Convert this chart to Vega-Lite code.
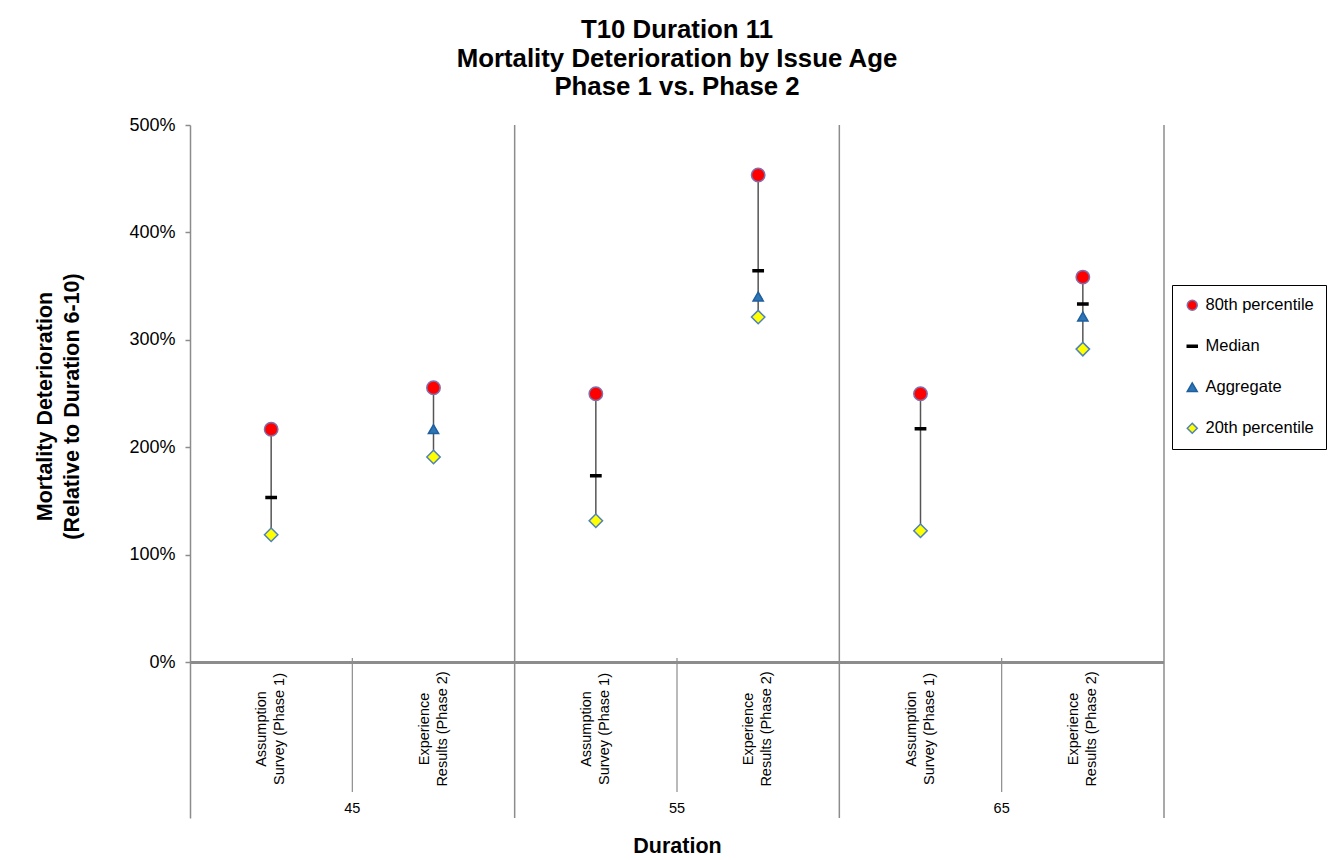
{
  "$schema": "https://vega.github.io/schema/vega-lite/v6.json",
  "autosize": "none",
  "padding": {"left": 190, "top": 125, "right": 171, "bottom": 42},
  "width": 974,
  "height": 693,
  "background": "white",
  "title": {
    "text": ["T10 Duration 11", "Mortality Deterioration by Issue Age", "Phase 1 vs. Phase 2"],
    "fontSize": 25.8,
    "fontWeight": "bold",
    "font": "Liberation Sans",
    "color": "#000000",
    "lineHeight": 28.5,
    "anchor": "middle",
    "offset": 15
  },
  "data": {
    "values": [
      {"group": "45", "source": "Assumption Survey (Phase 1)", "stat": "80th percentile", "value": 2.17},
      {"group": "45", "source": "Assumption Survey (Phase 1)", "stat": "Median", "value": 1.535},
      {"group": "45", "source": "Assumption Survey (Phase 1)", "stat": "20th percentile", "value": 1.188},
      {"group": "45", "source": "Experience Results (Phase 2)", "stat": "80th percentile", "value": 2.555},
      {"group": "45", "source": "Experience Results (Phase 2)", "stat": "Aggregate", "value": 2.171},
      {"group": "45", "source": "Experience Results (Phase 2)", "stat": "20th percentile", "value": 1.911},
      {"group": "55", "source": "Assumption Survey (Phase 1)", "stat": "80th percentile", "value": 2.5},
      {"group": "55", "source": "Assumption Survey (Phase 1)", "stat": "Median", "value": 1.737},
      {"group": "55", "source": "Assumption Survey (Phase 1)", "stat": "20th percentile", "value": 1.318},
      {"group": "55", "source": "Experience Results (Phase 2)", "stat": "80th percentile", "value": 4.535},
      {"group": "55", "source": "Experience Results (Phase 2)", "stat": "Median", "value": 3.644},
      {"group": "55", "source": "Experience Results (Phase 2)", "stat": "Aggregate", "value": 3.405},
      {"group": "55", "source": "Experience Results (Phase 2)", "stat": "20th percentile", "value": 3.213},
      {"group": "65", "source": "Assumption Survey (Phase 1)", "stat": "80th percentile", "value": 2.5},
      {"group": "65", "source": "Assumption Survey (Phase 1)", "stat": "Median", "value": 2.174},
      {"group": "65", "source": "Assumption Survey (Phase 1)", "stat": "20th percentile", "value": 1.225},
      {"group": "65", "source": "Experience Results (Phase 2)", "stat": "80th percentile", "value": 3.585},
      {"group": "65", "source": "Experience Results (Phase 2)", "stat": "Median", "value": 3.334},
      {"group": "65", "source": "Experience Results (Phase 2)", "stat": "Aggregate", "value": 3.219},
      {"group": "65", "source": "Experience Results (Phase 2)", "stat": "20th percentile", "value": 2.915}
    ]
  },
  "layer": [
    {
      "transform": [
        {"aggregate": [{"op": "count", "as": "n"}], "groupby": ["group"]}
      ],
      "mark": {"type": "rule", "color": "#8c8c8c", "strokeWidth": 1.5},
      "encoding": {
        "x": {
          "field": "group",
          "type": "nominal",
          "bandPosition": 1,
          "scale": {"domain": ["45", "55", "65"], "paddingInner": 0, "paddingOuter": 0},
          "axis": {"labels": false, "ticks": false, "domain": false, "grid": false, "title": "Duration", "titleFontSize": 21.5, "titleFontWeight": "bold", "titleColor": "#000000", "titlePadding": 17}
        },
        "y": {
          "datum": -1.447,
          "type": "quantitative",
          "scale": {"domain": [-1.447, 5], "nice": false, "zero": false},
          "axis": {
            "values": [0, 1, 2, 3, 4, 5],
            "format": ".0%",
            "grid": false,
            "tickSize": 5,
            "tickColor": "#8c8c8c",
            "tickWidth": 1.5,
            "domainColor": "#8c8c8c",
            "domainWidth": 1.5,
            "labelFontSize": 18,
            "labelColor": "#000000",
            "labelPadding": 10,
            "title": ["Mortality Deterioration", "(Relative to Duration 6-10)"],
            "titleFontSize": 21.5,
            "titleFontWeight": "bold",
            "titleColor": "#000000",
            "titleAngle": 270,
            "titleX": -145,
            "titleY": 281,
            "titleAlign": "center",
            "titleBaseline": "middle",
            "titleLineHeight": 27
          }
        },
        "y2": {"datum": 5}
      }
    },
    {
      "transform": [
        {"aggregate": [{"op": "count", "as": "n"}], "groupby": ["group"]}
      ],
      "mark": {"type": "rule", "color": "#8c8c8c", "strokeWidth": 1.2},
      "encoding": {
        "x": {"field": "group", "type": "nominal", "bandPosition": 0.5},
        "y": {"datum": 0.042, "type": "quantitative"},
        "y2": {"datum": -1.205}
      }
    },
    {
      "mark": {"type": "rule", "color": "#8c8c8c", "strokeWidth": 2},
      "encoding": {
        "y": {"datum": 0, "type": "quantitative"}
      }
    },
    {
      "transform": [
        {"aggregate": [{"op": "count", "as": "n"}], "groupby": ["group"]}
      ],
      "mark": {"type": "text", "fontSize": 14.5, "color": "#000000", "align": "center", "baseline": "middle"},
      "encoding": {
        "x": {"field": "group", "type": "nominal", "bandPosition": 0.5},
        "y": {"datum": -1.363, "type": "quantitative"},
        "text": {"field": "group"}
      }
    },
    {
      "transform": [
        {"aggregate": [{"op": "count", "as": "n"}], "groupby": ["group", "source"]},
        {"calculate": "replace(datum.source, ' ', '\\n')", "as": "label"}
      ],
      "mark": {"type": "text", "fontSize": 14.5, "color": "#000000", "align": "center", "baseline": "middle", "angle": 270, "lineBreak": "\n", "lineHeight": 18, "dy": -9},
      "encoding": {
        "x": {"field": "group", "type": "nominal"},
        "xOffset": {"field": "source", "type": "nominal", "scale": {"paddingInner": 0, "paddingOuter": 0}},
        "y": {"datum": -0.619, "type": "quantitative"},
        "text": {"field": "label"}
      }
    },
    {
      "transform": [
        {"aggregate": [{"op": "max", "field": "value", "as": "hi"}, {"op": "min", "field": "value", "as": "lo"}], "groupby": ["group", "source"]}
      ],
      "mark": {"type": "rule", "color": "#555555", "strokeWidth": 1.5},
      "encoding": {
        "x": {"field": "group", "type": "nominal"},
        "xOffset": {"field": "source", "type": "nominal"},
        "y": {"field": "hi", "type": "quantitative"},
        "y2": {"field": "lo"}
      }
    },
    {
      "transform": [
        {"filter": {"field": "stat", "oneOf": ["80th percentile", "20th percentile"]}}
      ],
      "mark": {"type": "point", "filled": true, "opacity": 1, "strokeWidth": 1.5, "size": 180},
      "encoding": {
        "x": {"field": "group", "type": "nominal"},
        "xOffset": {"field": "source", "type": "nominal"},
        "y": {"field": "value", "type": "quantitative"},
        "shape": {
          "field": "stat",
          "type": "nominal",
          "scale": {"domain": ["80th percentile", "Median", "Aggregate", "20th percentile"], "range": ["circle", "M-1,-0.2H1V0.2H-1Z", "triangle-up", "diamond"]},
          "legend": {"title": null, "orient": "none", "legendX": 982, "legendY": 160, "strokeColor": "#000000", "fillColor": "#ffffff", "padding": 12, "rowPadding": 24, "labelFontSize": 16.5, "labelColor": "#000000", "labelOffset": 5, "symbolSize": 100, "symbolStrokeWidth": 1.5}
        },
        "fill": {
          "field": "stat",
          "type": "nominal",
          "scale": {"domain": ["80th percentile", "Median", "Aggregate", "20th percentile"], "range": ["#ff0000", "#000000", "#2e75b6", "#ffff00"]}
        },
        "stroke": {
          "field": "stat",
          "type": "nominal",
          "scale": {"domain": ["80th percentile", "Median", "Aggregate", "20th percentile"], "range": ["#7f6fae", "#000000", "#1f5f9f", "#4f81bd"]}
        }
      }
    },
    {
      "transform": [
        {"filter": {"field": "stat", "oneOf": ["Median", "Aggregate"]}}
      ],
      "mark": {"type": "point", "filled": true, "opacity": 1, "strokeWidth": 1.5, "size": 105},
      "encoding": {
        "x": {"field": "group", "type": "nominal"},
        "xOffset": {"field": "source", "type": "nominal"},
        "y": {"field": "value", "type": "quantitative"},
        "shape": {"field": "stat", "type": "nominal"},
        "fill": {"field": "stat", "type": "nominal"},
        "stroke": {"field": "stat", "type": "nominal"}
      }
    }
  ],
  "config": {
    "font": "Liberation Sans",
    "view": {"stroke": null}
  }
}
